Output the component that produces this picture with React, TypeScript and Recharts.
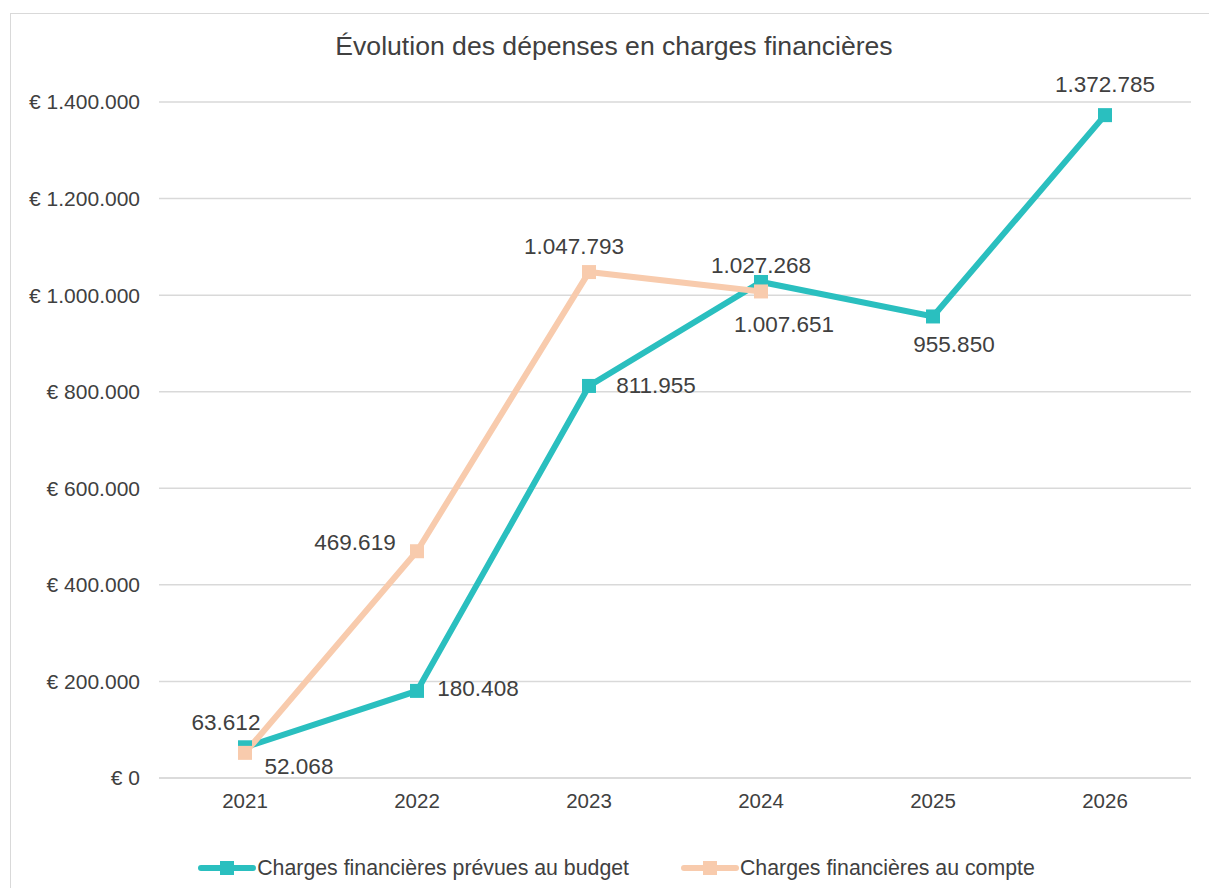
import { CartesianGrid, LabelList, Legend, Line, LineChart, XAxis, YAxis } from "recharts";

const years = ["2021", "2022", "2023", "2024", "2025", "2026"];
const budget = [63612, 180408, 811955, 1027268, 955850, 1372785];
const compte: (number | null)[] = [52068, 469619, 1047793, 1007651, null, null];
const yTicks = [0, 200000, 400000, 600000, 800000, 1000000, 1200000, 1400000];

const BUDGET_NAME = "Charges financières prévues au budget";
const COMPTE_NAME = "Charges financières au compte";

const TEAL = "#2ABFBF";
const PEACH = "#F8CBAD";
const TEXT = "#404040";
const FONT = "'Liberation Sans', Arial, sans-serif";

// label offsets (dx, dy) relative to each point, as placed in the original
const budgetOffsets = [[-19, -25], [61, -2], [67, 0], [0, -16], [21, 28], [0, -31]];
const compteOffsets = [[54, 14], [-62, -9], [-15, -26], [23, 33]];

const data = years.map((year, i) => ({ year, budget: budget[i], compte: compte[i] }));

const fmt = (v: number) => v.toLocaleString("de-DE");
const fmtEuro = (v: number) => "€ " + fmt(v);

function makeLabel(offsets: number[][]) {
  return (props: any) => {
    const { x, y, value, index } = props;
    if (value == null) return null;
    const [dx, dy] = offsets[index] || [0, -20];
    return (
      <text x={x + dx} y={y + dy} textAnchor="middle" dominantBaseline="central" fill={TEXT} fontSize={22.5} fontFamily={FONT}>
        {fmt(value)}
      </text>
    );
  };
}

function SquareDot(color: string) {
  return (props: any) => {
    const { cx, cy, index } = props;
    if (cx == null || cy == null) return <g key={index} />;
    return <rect key={index} x={cx - 7} y={cy - 7} width={14} height={14} fill={color} />;
  };
}

function LegendContent() {
  const items = [
    { name: BUDGET_NAME, color: TEAL },
    { name: COMPTE_NAME, color: PEACH },
  ];
  return (
    <div style={{ display: "flex", justifyContent: "center", gap: 52, fontFamily: FONT, fontSize: 21.3, color: TEXT, lineHeight: "24px", paddingLeft: 24 }}>
      {items.map((it) => (
        <div key={it.name} style={{ display: "flex", alignItems: "center" }}>
          <svg width={58} height={16} style={{ marginRight: 1 }}>
            <line x1={3} y1={8} x2={55} y2={8} stroke={it.color} strokeWidth={6} strokeLinecap="round" />
            <rect x={22} y={1} width={14} height={14} fill={it.color} />
          </svg>
          <span>{it.name}</span>
        </div>
      ))}
    </div>
  );
}

export default function App() {
  return (
    <div style={{ position: "relative", width: 1209, height: 888, overflow: "hidden", background: "#fff" }}>
      <style>{`body{margin:0;overflow:hidden}`}</style>
      <div style={{ position: "absolute", left: 10, top: 13, width: 1230, height: 920, border: "1px solid #d9d9d9" }} />
      <div style={{ position: "absolute", top: 31, left: 0, width: 1228, textAlign: "center", fontFamily: FONT, fontSize: 26.6, color: TEXT }}>
        Évolution des dépenses en charges financières
      </div>
      <div style={{ position: "absolute", left: 0, top: 0 }}>
        <LineChart width={1209} height={888} data={data} margin={{ top: 102, right: 18, bottom: 46, left: 9 }}>
          <CartesianGrid vertical={false} stroke="#d9d9d9" strokeWidth={1.5} />
          <XAxis
            dataKey="year"
            padding={{ left: 86, right: 86 }}
            axisLine={{ stroke: "#d9d9d9", strokeWidth: 1.5 }}
            tickLine={false}
            tick={{ fill: TEXT, fontSize: 20.5, fontFamily: FONT }}
            tickMargin={9}
            height={40}
          />
          <YAxis
            width={150}
            domain={[0, 1400000]}
            ticks={yTicks}
            tickFormatter={fmtEuro}
            axisLine={false}
            tickLine={false}
            tickSize={0}
            tickMargin={19}
            tick={{ fill: TEXT, fontSize: 21, fontFamily: FONT }}
          />
          <Legend
            verticalAlign="bottom"
            content={<LegendContent />}
            wrapperStyle={{ position: "absolute", top: 856, left: 0, width: 1209, height: 24 }}
          />
          <Line
            name={BUDGET_NAME}
            dataKey="budget"
            stroke={TEAL}
            strokeWidth={6}
            dot={SquareDot(TEAL)}
            activeDot={false}
            isAnimationActive={false}
          >
            <LabelList dataKey="budget" content={makeLabel(budgetOffsets)} />
          </Line>
          <Line
            name={COMPTE_NAME}
            dataKey="compte"
            stroke={PEACH}
            strokeWidth={6}
            dot={SquareDot(PEACH)}
            activeDot={false}
            isAnimationActive={false}
          >
            <LabelList dataKey="compte" content={makeLabel(compteOffsets)} />
          </Line>
        </LineChart>
      </div>
    </div>
  );
}
